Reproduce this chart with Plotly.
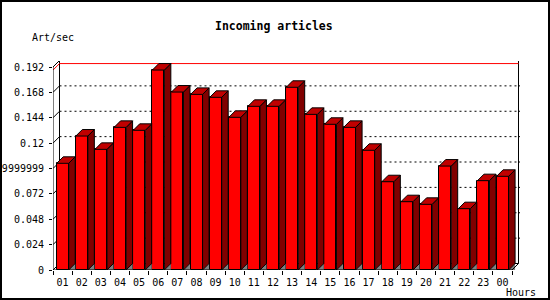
import plotly.graph_objects as go

# ---- data ----
hours = ["01", "02", "03", "04", "05", "06", "07", "08", "09", "10", "11", "12",
         "13", "14", "15", "16", "17", "18", "19", "20", "21", "22", "23", "00"]
art_per_sec = [0.1009, 0.1267, 0.1141, 0.1349, 0.1321, 0.1891, 0.1683, 0.1661,
               0.1633, 0.1444, 0.1548, 0.1548, 0.1728, 0.1472, 0.1378, 0.1349,
               0.1132, 0.0835, 0.0646, 0.0621, 0.0983, 0.0580, 0.0845, 0.0886]
y_tick_vals = [0, 0.024, 0.048, 0.072, 0.096, 0.12, 0.144, 0.168, 0.192]
y_tick_text = ["0", "0.024", "0.048", "0.072", "0.09599999999999999", "0.12",
               "0.144", "0.168", "0.192"]
title_text = "Incoming articles"
y_title = "Art/sec"
x_title = "Hours"

# ---- geometry (pixels) ----
W, H = 550, 300
L, T = 53, 61            # plot area left / top
PLOT_W, PLOT_H = 467, 209
CAT_PX = 19.125          # pixels per category
YMAX = y_tick_vals[-1]
Y_PX = 203.0 / YMAX      # pixels per unit
DEPTH = 6.5              # 3d depth in px
FRONT_OFF = 3.7          # px from category start to bar front
FRONT_W = 12.0           # front face width in px

N = len(hours)
DX = DEPTH / CAT_PX
DY = DEPTH / Y_PX
x_range = [0, PLOT_W / CAT_PX]
y_range = [0, PLOT_H / Y_PX]
bw = FRONT_W / CAT_PX
off = FRONT_OFF / CAT_PX

def px(xp):
    return (xp - L) / PLOT_W

def py(yp):
    return (T + PLOT_H - yp) / PLOT_H

RED = "#ff0000"
TOP = "#c00000"
SIDE = "#800000"
FLOOR = "#808080"
FONT = "DejaVu Sans Mono"

fig = go.Figure()

# floor shadow triangles
fx, fy = [], []
for i, v in enumerate(art_per_sec):
    xr = i + off + bw
    fx += [xr, xr + DX, xr + DX, xr, None]
    fy += [0, DY, 0, 0, None]
fig.add_trace(go.Scatter(x=fx, y=fy, mode="lines", fill="toself", fillcolor=FLOOR,
                         line=dict(width=0, color=FLOOR), hoverinfo="skip",
                         showlegend=False, cliponaxis=False))

# front faces
fig.add_trace(go.Bar(x=[i + off + bw / 2 for i in range(N)], y=art_per_sec, width=bw,
                     marker=dict(color=RED, line=dict(color="black", width=1)),
                     hoverinfo="skip", showlegend=False))

# side faces
sx, sy = [], []
for i, v in enumerate(art_per_sec):
    xr = i + off + bw
    sx += [xr, xr, xr + DX, xr + DX, xr, None]
    sy += [0, v, v + DY, DY, 0, None]
fig.add_trace(go.Scatter(x=sx, y=sy, mode="lines", fill="toself", fillcolor=SIDE,
                         line=dict(width=1, color="black"), hoverinfo="skip",
                         showlegend=False))

# top faces
tx, ty = [], []
for i, v in enumerate(art_per_sec):
    xl = i + off
    xr = xl + bw
    tx += [xl, xr, xr + DX, xl + DX, xl, None]
    ty += [v, v, v + DY, v + DY, v, None]
fig.add_trace(go.Scatter(x=tx, y=ty, mode="lines", fill="toself", fillcolor=TOP,
                         line=dict(width=1, color="black"), hoverinfo="skip",
                         showlegend=False))

# ---- frame / grid shapes ----
shapes = []
def seg(x0, y0, x1, y1, color="black", dash="solid", layer="below", width=1):
    shapes.append(dict(type="line", xref="x", yref="y", x0=x0, y0=y0, x1=x1, y1=y1,
                       line=dict(color=color, width=width, dash=dash), layer=layer))

XE = N  # front right end
for v in y_tick_vals[1:-1]:
    seg(0, v, DX, v + DY)
    seg(DX, v + DY, XE + DX, v + DY, dash="2px,3px")
    seg(XE + DX, v + DY, XE + DX + 3 / CAT_PX, v + DY)
# back wall
seg(DX, DY, DX, YMAX + DY)
seg(DX, DY, XE + DX, DY)
seg(DX, YMAX + DY, XE + DX, YMAX + DY)
seg(XE + DX, DY, XE + DX, YMAX + DY)
seg(0, 0, DX, DY)
# max line
vmax = max(art_per_sec)
seg(0, vmax, DX, vmax + DY, color="red")
seg(DX, vmax + DY, XE + DX, vmax + DY, color="red")
# front axes (above)
seg(0, 0, 0, YMAX, layer="above")
seg(0, YMAX, DX, YMAX + DY, layer="above")
seg(0, 0, XE, 0, layer="above")
seg(XE, 0, XE + DX, DY, layer="above")

# image border
shapes.append(dict(type="rect", xref="paper", yref="paper",
                   x0=px(1), x1=px(549), y0=py(299), y1=py(1),
                   line=dict(color="black", width=2), layer="above"))

annotations = [
    dict(text="<b>" + title_text + "</b>", xref="paper", yref="paper",
         x=px(274), y=py(26.5), xanchor="center", yanchor="middle", showarrow=False,
         font=dict(family=FONT, size=11.5, color="black")),
    dict(text=y_title, xref="paper", yref="paper", x=px(30), y=py(37),
         xanchor="left", yanchor="middle", showarrow=False,
         font=dict(family=FONT, size=10, color="black")),
    dict(text=x_title, xref="paper", yref="paper", x=px(504), y=py(292),
         xanchor="left", yanchor="middle", showarrow=False,
         font=dict(family=FONT, size=10, color="black")),
]

fig.update_layout(
    width=W, height=H,
    margin=dict(l=L, r=W - L - PLOT_W, t=T, b=H - T - PLOT_H, pad=0, autoexpand=False),
    paper_bgcolor="white", plot_bgcolor="rgba(0,0,0,0)",
    shapes=shapes, annotations=annotations, bargap=0,
    xaxis=dict(range=x_range, showgrid=False, zeroline=False, showline=False,
               automargin=False, ticklabelstandoff=3,
               tickmode="array", tickvals=[i + 0.5 for i in range(N)], ticktext=hours,
               ticks="outside", ticklen=0, tickcolor="black",
               tickfont=dict(family=FONT, size=10, color="black"),
               minor=dict(tickmode="array", tickvals=list(range(N + 1)),
                          ticks="outside", ticklen=4, tickcolor="black", showgrid=False),
               fixedrange=True),
    yaxis=dict(range=y_range, showgrid=False, zeroline=False, showline=False,
               automargin=False, ticklabelstandoff=3,
               tickmode="array", tickvals=y_tick_vals, ticktext=y_tick_text,
               ticks="outside", ticklen=3, tickcolor="black",
               tickfont=dict(family=FONT, size=10, color="black"),
               fixedrange=True),
)

fig.write_html("out.html", config={"displayModeBar": False})
